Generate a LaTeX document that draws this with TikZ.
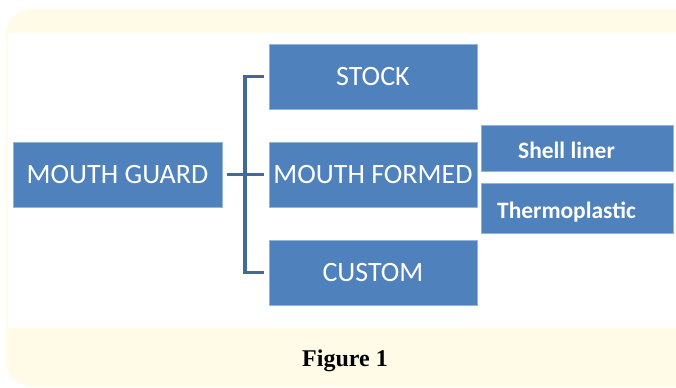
\documentclass[tikz,border=0pt]{standalone}
\usepackage{fontspec}
\setmainfont{Carlito}
\newfontfamily\capfont{Liberation Serif}
\usetikzlibrary{positioning}
\definecolor{boxblue}{HTML}{4F81BD}
\definecolor{linkblue}{HTML}{41699C}
\definecolor{paper}{HTML}{FFFBE7}
\newcommand{\px}{0.75pt}

\begin{document}
\begin{tikzpicture}[x=0.75pt, y=-0.75pt,
  bigbox/.style={fill=boxblue, draw=boxblue!60!white, line width=0.4pt, text=white,
    minimum width={208*\px}, minimum height={65*\px}, inner sep=0pt,
    font=\fontsize{21}{21}\selectfont},
  smallbox/.style={fill=boxblue, draw=boxblue!60!white, line width=0.4pt, text=white,
    minimum width={192*\px}, inner sep=0pt, text height=15.5pt, text depth=0pt,
    font=\fontsize{17.6}{17.6}\selectfont\bfseries},
  link/.style={draw=linkblue, line width=2.3pt, shorten <=3.75pt, shorten >=3.75pt}]
\useasboundingbox (0,0) rectangle (676,387);
% page background
\fill[paper, rounded corners=19pt] (6,9) rectangle (720,386);
\fill[white] (8,33) rectangle (676,328);
% boxes
\node[bigbox, minimum width={209*\px}] (guard) at (117.5,174.5) {MOUTH GUARD};
\node[bigbox] (stock) at (373,76.5) {STOCK};
\node[bigbox] (formed) at (373,174.5) {MOUTH FORMED};
\node[bigbox] (custom) at (373,272.5) {CUSTOM};
\node[smallbox, minimum height={46*\px}] (shell) at (577,148) {Shell liner\hspace*{15.75pt}};
\node[smallbox, minimum height={50*\px}] (thermo) at (577,208) {Thermoplastic\hspace*{15.75pt}};
% bracket
\coordinate (fork) at (245,174.5);
\draw[link] (guard.east) -- (formed.west);
\draw[link] (stock.west) -| (fork) |- (custom.west);
% caption
\node[anchor=base, font=\capfont\fontsize{18}{18}\selectfont\bfseries] (cap) at (345,366) {Figure 1};
\end{tikzpicture}
\end{document}
